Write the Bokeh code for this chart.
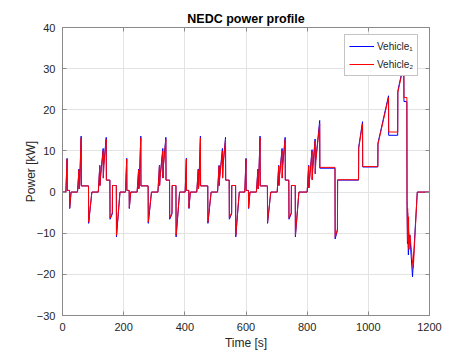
from bokeh.plotting import figure
from bokeh.models import LinearAxis, FixedTicker, Legend, LegendItem, Range1d
from bokeh.embed import file_html
from bokeh.resources import INLINE

# ---- data ----
time_s = [
    # ECE-15 cycle 1
    0, 11, 15, 15.5, 23, 23.5, 28, 49, 54, 54.5, 56, 61, 61.5, 85, 85.5, 96,
    117, 122, 122.5, 124, 133, 133.5, 135, 143, 143.5, 155, 155.5, 163, 163.5, 176, 176.5, 188,
    # ECE-15 cycle 2
    195, 206, 210, 210.5, 218, 218.5, 223, 244, 249, 249.5, 251, 256, 256.5, 280, 280.5, 291,
    312, 317, 317.5, 319, 328, 328.5, 330, 338, 338.5, 350, 350.5, 358, 358.5, 371, 371.5, 383,
    # ECE-15 cycle 3
    390, 401, 405, 405.5, 413, 413.5, 418, 439, 444, 444.5, 446, 451, 451.5, 475, 475.5, 486,
    507, 512, 512.5, 514, 523, 523.5, 525, 533, 533.5, 545, 545.5, 553, 553.5, 566, 566.5, 578,
    # ECE-15 cycle 4
    585, 596, 600, 600.5, 608, 608.5, 613, 634, 639, 639.5, 641, 646, 646.5, 670, 670.5, 681,
    702, 707, 707.5, 709, 718, 718.5, 720, 728, 728.5, 740, 740.5, 748, 748.5, 761, 761.5, 773,
    # EUDC
    780, 800, 805, 805.5, 807, 816, 816.5, 818, 826, 826.5, 828, 841, 841.5, 891, 891.5, 899,
    899.5, 968, 968.5, 981, 981.5, 1031, 1031.5, 1066, 1066.5, 1096, 1096.5, 1116, 1116.5, 1126,
    1126.5, 1128, 1128.5, 1131, 1131.5, 1133, 1136, 1137, 1144.5, 1147, 1160, 1198,
]

power_vehicle1_kw = [
    0, 0, 8.2, 0.4, 0.4, -4.0, 0, 0, 5.6, 0.8, 1.8, 13.6, 1.5, 1.5, -7.6, 0,
    0, 6.5, 1.6, 3.6, 10.6, 3.4, 6.6, 13.3, 2.9, 2.9, -6.6, -5.3, 1.6, 1.6, -10.9, 0,
    0, 0, 8.2, 0.4, 0.4, -4.0, 0, 0, 5.6, 0.8, 1.8, 13.6, 1.5, 1.5, -7.6, 0,
    0, 6.5, 1.6, 3.6, 10.6, 3.4, 6.6, 13.3, 2.9, 2.9, -6.6, -5.3, 1.6, 1.6, -10.9, 0,
    0, 0, 8.2, 0.4, 0.4, -4.0, 0, 0, 5.6, 0.8, 1.8, 13.6, 1.5, 1.5, -7.6, 0,
    0, 6.5, 1.6, 3.6, 10.6, 3.4, 6.6, 13.3, 2.9, 2.9, -6.6, -5.3, 1.6, 1.6, -10.9, 0,
    0, 0, 8.2, 0.4, 0.4, -4.0, 0, 0, 5.6, 0.8, 1.8, 13.6, 1.5, 1.5, -7.6, 0,
    0, 6.5, 1.6, 3.6, 10.6, 3.4, 6.6, 13.3, 2.9, 2.9, -6.6, -5.3, 1.6, 1.6, -10.9, 0,
    0, 0, 6.5, 1.0, 2.6, 10.3, 3.0, 5.6, 12.9, 4.5, 7.6, 17.4, 5.8, 5.8, -11.4, -9.3,
    2.9, 2.9, 10.9, 17.1, 6.1, 6.1, 11.9, 23.4, 13.8, 13.8, 24.6, 31.4, 22.0, 22.0,
    -2.0, -12.5, -5.0, -15.3, -9.5, -11.0, -10.4, -12.0, -20.6, -17.0, 0, 0,
]

power_vehicle2_kw = [
    0, 0, 8.0, 0.4, 0.4, -3.8, 0, 0, 5.4, 0.8, 1.8, 13.2, 1.5, 1.5, -7.3, 0,
    0, 6.3, 1.6, 3.5, 10.0, 3.4, 6.3, 12.8, 2.9, 2.9, -6.3, -5.0, 1.6, 1.6, -10.5, 0,
    0, 0, 8.0, 0.4, 0.4, -3.8, 0, 0, 5.4, 0.8, 1.8, 13.2, 1.5, 1.5, -7.3, 0,
    0, 6.3, 1.6, 3.5, 10.0, 3.4, 6.3, 12.8, 2.9, 2.9, -6.3, -5.0, 1.6, 1.6, -10.5, 0,
    0, 0, 8.0, 0.4, 0.4, -3.8, 0, 0, 5.4, 0.8, 1.8, 13.2, 1.5, 1.5, -7.3, 0,
    0, 6.3, 1.6, 3.5, 10.0, 3.4, 6.3, 12.8, 2.9, 2.9, -6.3, -5.0, 1.6, 1.6, -10.5, 0,
    0, 0, 8.0, 0.4, 0.4, -3.8, 0, 0, 5.4, 0.8, 1.8, 13.2, 1.5, 1.5, -7.3, 0,
    0, 6.3, 1.6, 3.5, 10.0, 3.4, 6.3, 12.8, 2.9, 2.9, -6.3, -5.0, 1.6, 1.6, -10.5, 0,
    0, 0, 6.3, 1.0, 2.5, 9.9, 3.0, 5.4, 12.4, 4.4, 7.4, 16.6, 6.0, 6.0, -10.9, -9.0,
    3.0, 3.0, 10.6, 16.6, 6.2, 6.2, 11.6, 23.0, 14.6, 14.6, 24.2, 31.0, 23.0, 23.0,
    -1.6, -12.0, -4.0, -13.5, -6.0, -14.0, -10.5, -11.2, -17.0, -18.5, 0, 0,
]

x_ticks = [0, 200, 400, 600, 800, 1000, 1200]
y_ticks = [-30, -20, -10, 0, 10, 20, 30, 40]
series_labels = ["Vehicle\u2081", "Vehicle\u2082"]

FONT = "Liberation Sans"
FRAME = "#8a8a8a"
TXT = "#262626"

p = figure(width=474, height=355, output_backend="svg", toolbar_location=None,
           x_range=Range1d(0, 1200), y_range=Range1d(-30, 40),
           min_border_left=62, min_border_right=45, min_border_top=27, min_border_bottom=40,
           title="NEDC power profile", background_fill_color="white",
           border_fill_color="white")

p.title.align = "center"
p.title.text_font = FONT
p.title.text_font_size = "12.5px"
p.title.text_font_style = "bold"
p.title.text_color = "#000000"
p.title.standoff = 4

p.outline_line_color = FRAME
p.outline_line_width = 1

p.xaxis.ticker = FixedTicker(ticks=x_ticks)
p.yaxis.ticker = FixedTicker(ticks=y_ticks)
p.xgrid.ticker = FixedTicker(ticks=x_ticks)
p.ygrid.ticker = FixedTicker(ticks=y_ticks)
p.grid.grid_line_color = "#e3e3e3"
p.grid.grid_line_width = 1

p.xaxis.axis_label = "Time [s]"
p.yaxis.axis_label = "Power [kW]"

for ax in [p.xaxis[0], p.yaxis[0]]:
    ax.axis_line_color = FRAME
    ax.major_tick_line_color = FRAME
    ax.major_tick_in = 4
    ax.major_tick_out = 0
    ax.minor_tick_line_color = None
    ax.major_label_text_font = FONT
    ax.major_label_text_font_size = "11px"
    ax.major_label_text_color = TXT
    ax.axis_label_text_font = FONT
    ax.axis_label_text_font_size = "12px"
    ax.axis_label_text_font_style = "normal"
    ax.axis_label_text_color = TXT

p.xaxis.major_label_standoff = 7
p.xaxis.axis_label_standoff = 2
p.yaxis.major_label_standoff = 7
p.yaxis.axis_label_standoff = -4

# box-style ticks on the top and right sides (no labels drawn)
top_axis = LinearAxis(ticker=FixedTicker(ticks=x_ticks), major_label_text_font_size="1px",
                      major_label_text_color=None, major_label_standoff=0,
                      axis_line_color=FRAME, major_tick_line_color=FRAME,
                      major_tick_in=4, major_tick_out=0, minor_tick_line_color=None)
right_axis = LinearAxis(ticker=FixedTicker(ticks=y_ticks), major_label_text_font_size="1px",
                        major_label_text_color=None, major_label_standoff=0,
                        axis_line_color=FRAME, major_tick_line_color=FRAME,
                        major_tick_in=4, major_tick_out=0, minor_tick_line_color=None)
p.add_layout(top_axis, "above")
p.add_layout(right_axis, "right")

r1 = p.line(time_s, power_vehicle1_kw, line_color="#0000ff", line_width=1)
r2 = p.line(time_s, power_vehicle2_kw, line_color="#ff0000", line_width=1)

legend = Legend(items=[LegendItem(label=series_labels[0], renderers=[r1]),
                       LegendItem(label=series_labels[1], renderers=[r2])],
                location=(282, 239), margin=0, padding=4, spacing=4,
                glyph_width=25, glyph_height=14, label_height=14, label_standoff=3,
                label_text_font=FONT, label_text_font_size="10px", label_text_color=TXT,
                border_line_color=FRAME, border_line_width=1,
                background_fill_color="white", background_fill_alpha=1.0)
p.add_layout(legend)

open("out.html", "w").write(file_html(p, INLINE))
